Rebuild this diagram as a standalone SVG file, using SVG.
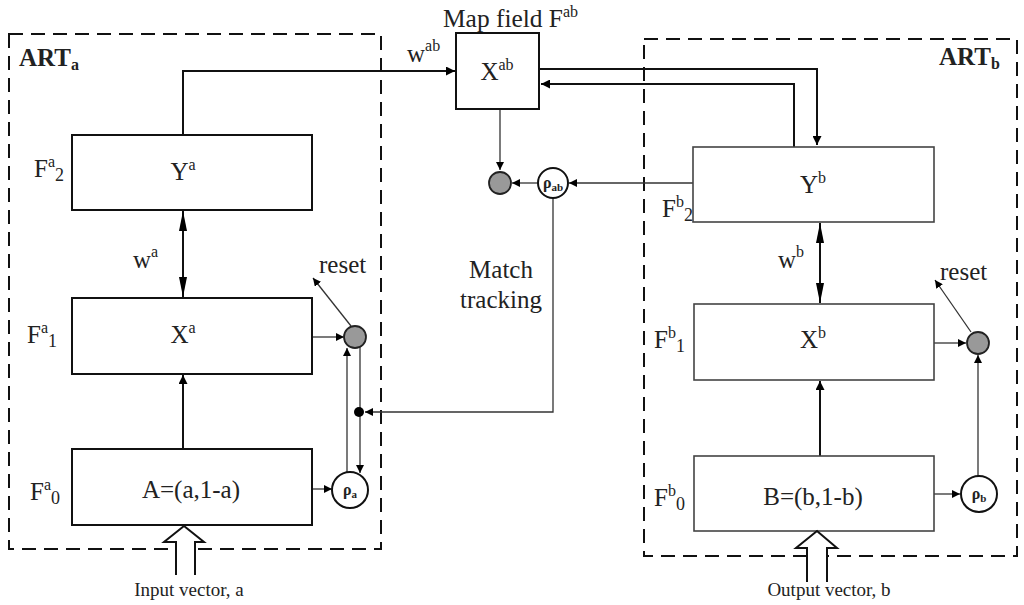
<svg xmlns="http://www.w3.org/2000/svg" width="1024" height="605" viewBox="0 0 1024 605">
<defs>
<marker id="ah" viewBox="0 0 10 10" refX="10" refY="5" markerWidth="9" markerHeight="9" markerUnits="userSpaceOnUse" orient="auto"><path d="M0,0 L10,5 L0,10 z" fill="#000"/></marker>
<marker id="ahs" viewBox="0 0 10 10" refX="10" refY="5" markerWidth="8" markerHeight="8" markerUnits="userSpaceOnUse" orient="auto"><path d="M0,0 L10,5 L0,10 z" fill="#000"/></marker>
<marker id="dbl" viewBox="0 0 20 10" refX="20" refY="5" markerWidth="22" markerHeight="10" markerUnits="userSpaceOnUse" orient="auto"><path d="M0,1 L20,5 L0,9 z" fill="#000"/></marker>
</defs>
<style>
text{font-family:"Liberation Serif","Times New Roman",serif;fill:#222}
.lbl{font-size:25px}
.sm{font-size:19px}
.box{fill:#fff;stroke:#111;stroke-width:2}
.boxr{fill:#fff;stroke:#444;stroke-width:1.6}
.dash{fill:none;stroke:#111;stroke-width:2;stroke-dasharray:14,8}
.thk{fill:none;stroke:#111;stroke-width:2}
.thn{fill:none;stroke:#333;stroke-width:1.3}
.gray{fill:#999;stroke:#222;stroke-width:1.8}
.rho{fill:#fff;stroke:#111;stroke-width:2}
.rt{font-size:16px;font-weight:bold;text-anchor:middle}
.hollow{fill:#fff;stroke:#111;stroke-width:2}
.art{font-size:25px;font-weight:bold}
</style>
<rect x="0" y="0" width="1024" height="605" fill="#fff"/>

<g id="artA-frame"><rect class="dash" x="9" y="34" width="372" height="515"/><text class="art" x="19" y="66">ART<tspan font-size="16" dy="4">a</tspan></text></g>
<g id="artB-frame"><rect class="dash" x="644" y="39" width="373" height="517"/><text class="art" x="939" y="65">ART<tspan font-size="16" dy="4">b</tspan></text></g>

<g id="connectors">
<path class="thk" d="M183,135 V71 H455" marker-end="url(#ah)"/>
<path class="thk" d="M539,69 H817 V145" marker-end="url(#ah)"/>
<path class="thk" d="M794,147 V84 H541" marker-end="url(#ah)"/>
<path class="thn" d="M500,109 V170" marker-end="url(#ahs)"/>
<path class="thn" d="M693,183 H569" marker-end="url(#ahs)"/>
<path class="thn" d="M538,183 H512" marker-end="url(#ahs)"/>
<path class="thn" d="M553,198 V412 H365" marker-end="url(#ahs)"/>
<line class="thk" x1="183" y1="254" x2="183" y2="211" marker-end="url(#dbl)"/>
<line class="thk" x1="183" y1="254" x2="183" y2="297" marker-end="url(#dbl)"/>
<line class="thk" x1="183" y1="449" x2="183" y2="375" marker-end="url(#ah)"/>
<line class="thn" x1="312" y1="337" x2="344" y2="337" marker-end="url(#ahs)"/>
<line class="thn" x1="347" y1="473" x2="347" y2="348" marker-end="url(#ahs)"/>
<line class="thn" x1="360" y1="346" x2="360" y2="473" marker-end="url(#ahs)"/>
<line class="thn" x1="312" y1="489" x2="332" y2="489" marker-end="url(#ahs)"/>
<line class="thn" x1="351" y1="326" x2="313" y2="278" marker-end="url(#ahs)"/>
<line class="thk" x1="820" y1="263" x2="820" y2="223" marker-end="url(#dbl)"/>
<line class="thk" x1="820" y1="263" x2="820" y2="303" marker-end="url(#dbl)"/>
<line class="thk" x1="820" y1="456" x2="820" y2="381" marker-end="url(#ah)"/>
<line class="thn" x1="934" y1="343" x2="966" y2="343" marker-end="url(#ahs)"/>
<line class="thn" x1="934" y1="494" x2="960" y2="494" marker-end="url(#ahs)"/>
<line class="thn" x1="978" y1="476" x2="978" y2="355" marker-end="url(#ahs)"/>
<line class="thn" x1="971" y1="332" x2="935" y2="280" marker-end="url(#ahs)"/>
</g>

<g id="Ya"><rect class="box" x="72" y="135" width="240" height="75"/><text class="lbl" x="183" y="180" text-anchor="middle">Y<tspan font-size="16" dy="-10">a</tspan></text><text class="lbl" x="34" y="177">F<tspan font-size="16" dy="-10">a</tspan><tspan font-size="18" dy="14">2</tspan></text></g>
<g id="Xa"><rect class="box" x="72" y="298" width="240" height="76"/><text class="lbl" x="183" y="343" text-anchor="middle">X<tspan font-size="16" dy="-10">a</tspan></text><text class="lbl" x="27" y="343">F<tspan font-size="16" dy="-10">a</tspan><tspan font-size="18" dy="14">1</tspan></text></g>
<g id="A"><rect class="box" x="72" y="449" width="240" height="76"/><text class="lbl" x="191" y="498" text-anchor="middle">A=(a,1-a)</text><text class="lbl" x="30" y="500">F<tspan font-size="16" dy="-10">a</tspan><tspan font-size="18" dy="14">0</tspan></text></g>
<g id="wa"><text class="lbl" x="133" y="268">w<tspan font-size="16" dy="-11">a</tspan></text></g>
<g id="gray-a"><circle class="gray" cx="355" cy="337" r="11"/></g>
<g id="rho-a"><circle class="rho" cx="350" cy="490" r="18"/><text class="rt" x="350" y="495">ρ<tspan font-size="11" dy="3">a</tspan></text></g>
<g id="junction"><circle cx="359" cy="412" r="5" fill="#000"/></g>
<g id="reset-a"><text class="lbl" x="319" y="273">reset</text></g>
<g id="input-a"><path class="hollow" d="M176,575 V542 H164 L184,526 L204,542 H195 V575"/><text class="sm" x="189" y="596" text-anchor="middle">Input vector, a</text></g>

<g id="Xab"><rect class="box" x="456" y="33" width="83" height="76"/><text class="lbl" x="497" y="80" text-anchor="middle">X<tspan font-size="16" dy="-10">ab</tspan></text><text class="lbl" x="443" y="27" textLength="120" lengthAdjust="spacingAndGlyphs">Map field F</text><text font-size="16" x="563" y="17">ab</text></g>
<g id="wab"><text class="lbl" x="407" y="62">w<tspan font-size="16" dy="-11">ab</tspan></text></g>
<g id="gray-ab"><circle class="gray" cx="500" cy="183" r="11"/></g>
<g id="rho-ab"><circle class="rho" cx="553" cy="183" r="15"/><text class="rt" x="553" y="188">ρ<tspan font-size="11" dy="3">ab</tspan></text></g>
<g id="match"><text class="lbl" x="501" y="278" text-anchor="middle">Match</text><text class="lbl" x="501" y="308" text-anchor="middle">tracking</text></g>

<g id="Yb"><rect class="boxr" x="693" y="147" width="241" height="75"/><text class="lbl" x="813" y="193" text-anchor="middle">Y<tspan font-size="16" dy="-10">b</tspan></text><text class="lbl" x="662" y="217">F<tspan font-size="16" dy="-10">b</tspan><tspan font-size="18" dy="14">2</tspan></text></g>
<g id="Xb"><rect class="boxr" x="694" y="304" width="240" height="76"/><text class="lbl" x="813" y="348" text-anchor="middle">X<tspan font-size="16" dy="-10">b</tspan></text><text class="lbl" x="654" y="348">F<tspan font-size="16" dy="-10">b</tspan><tspan font-size="18" dy="14">1</tspan></text></g>
<g id="B"><rect class="boxr" x="694" y="456" width="240" height="75"/><text class="lbl" x="813" y="505" text-anchor="middle">B=(b,1-b)</text><text class="lbl" x="654" y="506">F<tspan font-size="16" dy="-10">b</tspan><tspan font-size="18" dy="14">0</tspan></text></g>
<g id="wb"><text class="lbl" x="778" y="268">w<tspan font-size="16" dy="-11">b</tspan></text></g>
<g id="gray-b"><circle class="gray" cx="978" cy="343" r="11"/></g>
<g id="rho-b"><circle class="rho" cx="979" cy="494" r="18"/><text class="rt" x="979" y="499">ρ<tspan font-size="11" dy="3">b</tspan></text></g>
<g id="reset-b"><text class="lbl" x="940" y="280">reset</text></g>
<g id="output-b"><path class="hollow" d="M807,582 V548 H796 L817,531 L837,548 H827 V582"/><text class="sm" x="829" y="596" text-anchor="middle">Output vector, b</text></g>
</svg>
